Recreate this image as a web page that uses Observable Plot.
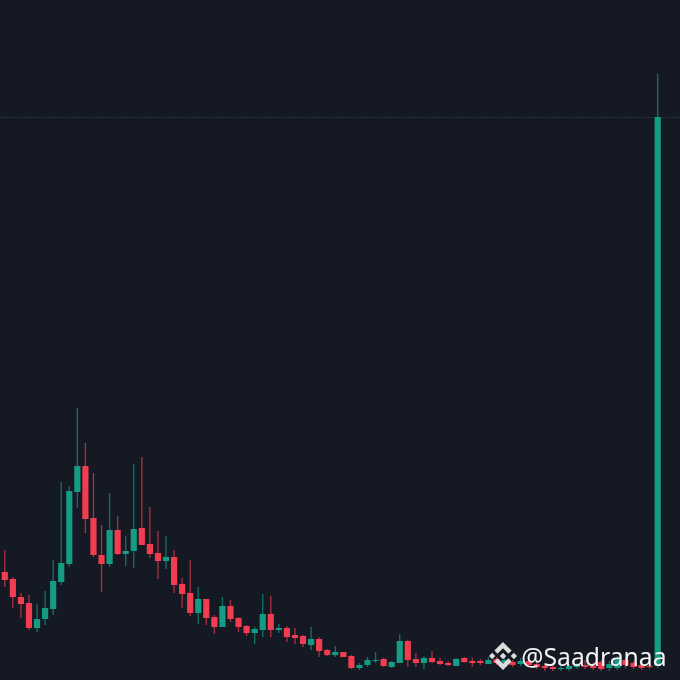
<!DOCTYPE html>
<html>
<head>
<meta charset="utf-8">
<script src="https://cdn.jsdelivr.net/npm/d3@7"></script>
<script src="https://cdn.jsdelivr.net/npm/@observablehq/plot@0.6"></script>
<style>
html,body{margin:0;padding:0;background:#151924;}
#chart{position:relative;width:680px;height:680px;overflow:hidden;}
#logo{position:absolute;left:489px;top:642px;width:28px;height:28px;}
</style>
</head>
<body>
<div id="chart"></div>
<script>
const opens  = [108,101,83,77,52,61,71,98,116,188,214,162,125,116,150,126,129,152,136,127,119,123,96,87,67,81,63,53,74,62,54,47,50,66,50,52,45,44,35,41,30,25,28,24,12,15,19,21,13,17,39,21,17,22,19,17,14,22,19,19,16,21,17,18,16,19,16,14,13,11,11,13,15,14,18,12,12,20,17,15,14,14];
const closes = [100,83,76,52,61,72,99,117,189,214,161,125,116,150,126,129,151,135,126,119,123,95,86,67,81,62,53,74,61,53,47,51,66,50,52,43,42,36,41,29,25,28,23,12,15,20,20,14,18,39,20,17,22,18,16,15,21,18,17,17,20,17,20,15,19,15,13,12,11,12,14,15,13,12,11,16,21,15,13,12,13,563];
const highs  = [130,103,87,85,76,89,120,198,194,272,237,207,155,187,164,144,216,223,173,149,144,130,102,120,93,81,65,83,80,63,55,53,86,84,56,54,52,45,53,43,31,34,28,25,17,23,28,22,19,46,40,27,24,29,22,19,22,23,22,21,23,23,24,20,22,21,18,16,15,14,16,17,20,18,20,19,24,22,19,17,15,606];
const lows   = [93,72,62,50,48,55,65,95,113,172,147,123,88,113,125,114,112,135,122,101,111,87,72,64,56,55,46,53,58,48,44,36,43,43,47,38,36,33,30,23,24,23,23,11,10,13,17,13,12,17,13,13,11,17,15,14,14,17,13,15,16,15,15,13,14,13,11,9,9,9,9,11,11,10,9,9,10,12,11,10,11,12];
const resistance = 563;
const watermark = "@Saadranaa";

const candles = opens.map((open, i) => ({i, open, close: closes[i], high: highs[i], low: lows[i], up: closes[i] >= open}));
const GREEN = "#169c82", RED = "#f23c50";
const tone = d => d.up ? GREEN : RED;

const plot = Plot.plot({
  width: 680,
  height: 680,
  margin: 0,
  style: {background: "#151924"},
  x: {axis: null, type: "linear", domain: [-0.533, 83.83], range: [0, 680]},
  y: {axis: null, type: "linear", domain: [0, 680], range: [680, 0]},
  marks: [
    Plot.ruleY([resistance], {stroke: "#2f7f78", strokeOpacity: 0.4, strokeWidth: 1, strokeDasharray: "1.5,1.5"}),
    Plot.ruleX(candles, {x: "i", y1: "low", y2: "high", stroke: tone, strokeWidth: 1.3, strokeOpacity: 0.68}),
    Plot.ruleX(candles, {x: "i", y1: "open", y2: "close", stroke: tone, strokeWidth: 6.2}),
    Plot.text([watermark], {
      frameAnchor: "bottom-right", dx: -14, dy: -15,
      fill: "#f4f4f4", fontSize: 24.7, fontFamily: "Noto Sans", lineAnchor: "bottom"
    })
  ]
});
document.getElementById("chart").appendChild(plot);
plot.style.display = "block";
plot.style.filter = "blur(0.35px)";

// Binance watermark glyph
document.getElementById("chart").insertAdjacentHTML("beforeend",
  '<svg id="logo" viewBox="0 0 126.61 126.61"><path fill="#dcdcdc" d="M38.73 53.2 63.31 28.63 87.9 53.22l14.3-14.3L63.31 0 24.43 38.88l14.3 14.32zM0 63.31 14.3 49.01 28.6 63.31 14.3 77.61zM38.73 73.41 63.31 97.99 87.9 73.4l14.31 14.29-.01.01-38.89 38.91-38.88-38.88-.02-.02 14.32-14.3zM98.01 63.31 112.31 49.01 126.61 63.31 112.31 77.61zM77.81 63.3 63.31 48.8 48.82 63.29l14.49 14.5 14.5-14.49z"/></svg>');
</script>
</body>
</html>
